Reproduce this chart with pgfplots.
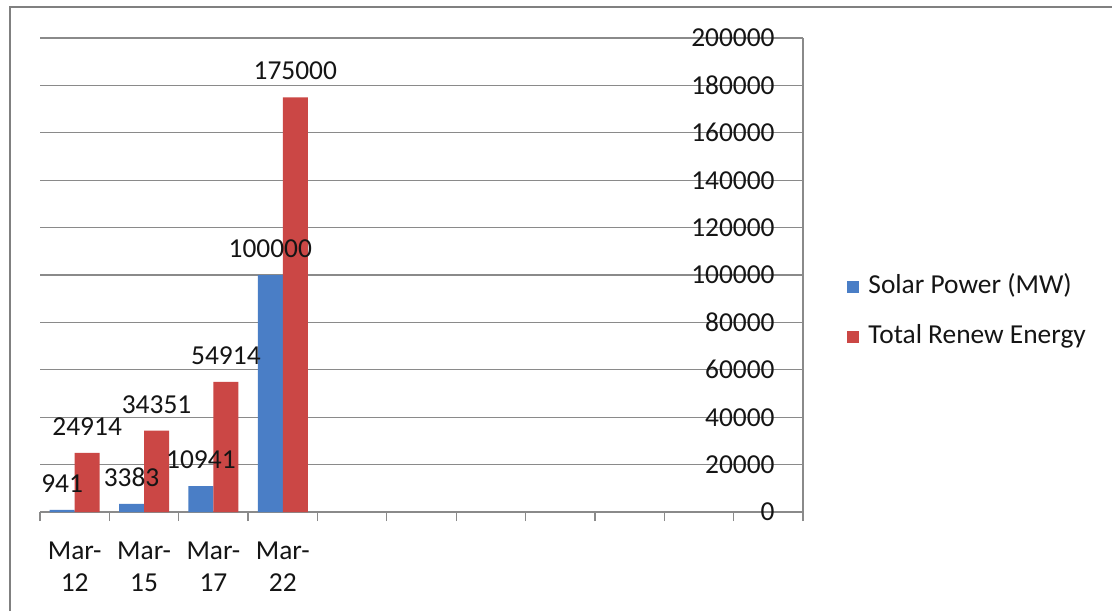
\documentclass[border=0pt]{standalone}
\usepackage{fontspec}
\setmainfont{Carlito}
\usepackage{pgfplots}
\pgfplotsset{compat=1.18}
\usepackage{pgfplotstable}

\definecolor{solarblue}{HTML}{4A7EC6}
\definecolor{renewred}{HTML}{CB4745}
\definecolor{gridgray}{HTML}{8A8A8A}
\definecolor{framegray}{HTML}{808080}
\definecolor{labeltext}{HTML}{151515}

% x = category slot, s = solar power (MW), r = total renewable energy
\pgfplotstableread{
x s r
0 941 24914
1 3383 34351
2 10941 54914
3 100000 175000
}\energydata

\begin{document}
\fontsize{13.7}{16}\selectfont
\begin{tikzpicture}
\useasboundingbox (0,0) rectangle (556pt,-305.5pt);
\fill[white] (0,0) rectangle (556pt,-305.5pt);
\draw[framegray, line width=1.3pt] (5pt,-305.5pt) -- (5pt,-3.5pt) -- (556pt,-3.5pt);
\begin{axis}[
  at={(20pt,-256pt)}, anchor=south west,
  scale only axis, width=381.5pt, height=237pt,
  xmin=-0.5, xmax=10.5, ymin=0, ymax=200000,
  axis x line*=bottom, axis y line*=right,
  axis line style={gridgray, line width=0.65pt},
  ybar=0pt, bar width=12.5pt,
  xtick={0,1,2,3},
  xticklabels={{Mar-\\12},{Mar-\\15},{Mar-\\17},{Mar-\\22}},
  minor xtick={-0.5,0.5,...,10.5},
  major tick length=0pt, minor tick length=4.5pt,
  tick align=outside,
  tick style={gridgray, line width=0.65pt},
  scaled y ticks=false,
  ytick={0,20000,40000,60000,80000,100000,120000,140000,160000,180000,200000},
  yticklabels={0,20000,40000,60000,80000,100000,120000,140000,160000,180000,200000},
  ymajorgrids, grid style={gridgray, line width=0.65pt},
  xticklabel style={align=center, inner sep=0pt, anchor=north, yshift=-15pt, text=labeltext},
  yticklabel style={anchor=east, inner sep=0pt, xshift=-14pt, text=labeltext},
  /pgf/number format/assume math mode=true,
  point meta=explicit symbolic,
  nodes near coords={\pgfplotspointmeta},
  every node near coord/.append style={anchor=south, inner sep=0pt, yshift=8.5pt, text=labeltext},
  legend style={at={(rel axis cs:1.0577,0.422)}, anchor=west, draw=none, fill=none,
    inner sep=0pt, row sep=13.5pt, column sep=4.5pt,
    nodes={inner sep=0pt, text height=9pt, text depth=2.5pt, text=labeltext}},
  legend cell align=left,
  legend image code/.code={\fill[#1] (0pt,-3pt) rectangle (6pt,3pt);},
]
\addplot[fill=solarblue, draw=none] table[x=x, y=s, meta=s] {\energydata};
\addplot[fill=renewred, draw=none] table[x=x, y=r, meta=r] {\energydata};
\legend{Solar Power (MW), Total Renew Energy}
\end{axis}
\end{tikzpicture}
\end{document}
